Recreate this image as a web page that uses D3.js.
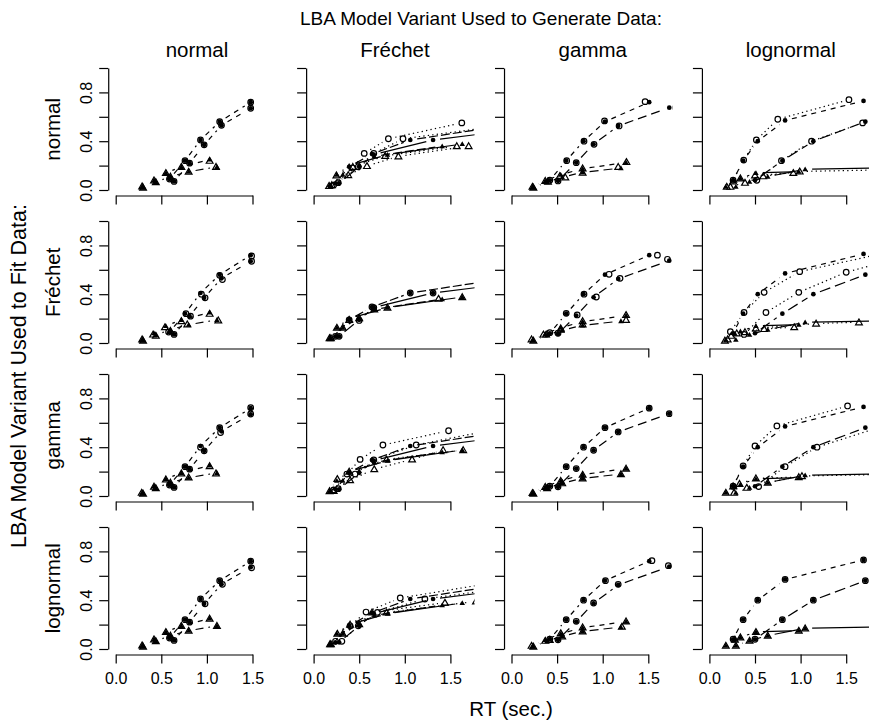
<!DOCTYPE html>
<html><head><meta charset="utf-8">
<script src="https://cdn.jsdelivr.net/npm/d3@7"></script>
<style>
body{margin:0;background:#fff}
svg{display:block}
text{font-family:"Liberation Sans",Arial,Helvetica,sans-serif;fill:#000}
</style></head>
<body><svg id="c" width="869" height="723"></svg>
<script>
// ---------- labels ----------
const variants = ["normal", "Fréchet", "gamma", "lognormal"];
const xTicks = [0, 0.5, 1, 1.5];
const yTicks = [0, 0.2, 0.4, 0.6, 0.8, 1];
const yLabelTicks = [0, 0.4, 0.8];
const curveKinds = ["correct", "correct", "error", "error"];

// ---------- observed data (filled symbols), one per generating model ----------
// each curve: [x (RT quantiles, s), y (defective cumulative probability)]
const dataNormal = [
  [[0.59,0.76,0.93,1.14,1.48],[0.09,0.24,0.41,0.56,0.72]],
  [[0.64,0.81,0.97,1.16,1.48],[0.07,0.22,0.37,0.53,0.67]],
  [[0.29,0.42,0.55,0.72,1.03],[0.03,0.08,0.14,0.19,0.25]],
  [[0.30,0.44,0.60,0.80,1.11],[0.02,0.065,0.11,0.15,0.19]]
];
const dataFrechet = [
  [[0.24,0.39,0.64,1.06,2.2],[0.055,0.19,0.295,0.41,0.54]],
  [[0.28,0.50,0.66,1.31,2.6],[0.055,0.19,0.29,0.41,0.53]],
  [[0.175,0.255,0.39,0.81,1.63],[0.041,0.126,0.20,0.29,0.377]],
  [[0.19,0.32,0.50,0.665,1.41],[0.04,0.126,0.205,0.276,0.36]]
];
const dataGamma = [
  [[0.42,0.60,0.79,1.025,1.51],[0.08,0.24,0.40,0.56,0.72]],
  [[0.51,0.71,0.90,1.17,1.73],[0.075,0.225,0.375,0.525,0.675]],
  [[0.23,0.37,0.54,0.78,1.256],[0.025,0.075,0.125,0.175,0.225]],
  [[0.24,0.39,0.556,0.78,1.20],[0.02,0.065,0.105,0.145,0.18]]
];
const dataLognormal = [
  [[0.26,0.37,0.53,0.83,1.69],[0.08,0.24,0.40,0.57,0.73]],
  [[0.50,0.80,1.14,1.71,2.9],[0.08,0.24,0.40,0.56,0.72]],
  [[0.18,0.28,0.34,0.51,0.98],[0.027,0.077,0.096,0.14,0.15]],
  [[0.29,0.44,0.64,1.05,4.0],[0.027,0.068,0.11,0.17,0.21]]
];

// ---------- model predictions (open symbols): fit model x generating model ----------
const fitNormal_genNormal = [
  [[0.59,0.76,0.93,1.14,1.48],[0.09,0.24,0.41,0.56,0.72]],
  [[0.64,0.81,0.97,1.16,1.48],[0.07,0.22,0.37,0.53,0.67]],
  [[0.29,0.42,0.55,0.72,1.03],[0.03,0.08,0.14,0.19,0.24]],
  [[0.30,0.44,0.60,0.80,1.10],[0.02,0.065,0.11,0.15,0.19]]
];
const fitFrechet_genNormal = [
  [[0.58,0.77,0.94,1.14,1.49],[0.09,0.24,0.40,0.555,0.713]],
  [[0.64,0.82,0.98,1.17,1.49],[0.07,0.22,0.37,0.52,0.67]],
  [[0.29,0.41,0.54,0.72,1.03],[0.03,0.07,0.13,0.18,0.24]],
  [[0.30,0.44,0.60,0.785,1.125],[0.02,0.06,0.10,0.153,0.186]]
];
const fitGamma_genNormal = [
  [[0.59,0.76,0.93,1.14,1.48],[0.09,0.24,0.40,0.56,0.724]],
  [[0.64,0.81,0.97,1.15,1.48],[0.07,0.22,0.37,0.52,0.672]],
  [[0.285,0.42,0.55,0.72,1.03],[0.027,0.077,0.137,0.186,0.246]],
  [[0.30,0.44,0.60,0.80,1.10],[0.02,0.065,0.11,0.153,0.186]]
];
const fitLognormal_genNormal = [
  [[0.59,0.76,0.93,1.14,1.48],[0.09,0.24,0.41,0.56,0.72]],
  [[0.64,0.81,0.98,1.17,1.49],[0.07,0.22,0.37,0.53,0.665]],
  [[0.29,0.42,0.55,0.72,1.03],[0.03,0.08,0.14,0.19,0.25]],
  [[0.30,0.44,0.60,0.80,1.11],[0.02,0.065,0.11,0.15,0.19]]
];
const fitNormal_genFrechet = [
  [[0.22,0.43,0.555,0.82,1.625],[0.04,0.18,0.30,0.42,0.55]],
  [[0.27,0.49,0.66,0.98,2.2],[0.06,0.19,0.30,0.42,0.54]],
  [[0.17,0.25,0.43,0.785,1.57],[0.035,0.12,0.19,0.28,0.36]],
  [[0.20,0.38,0.585,0.93,1.70],[0.04,0.123,0.197,0.276,0.36]]
];
const fitFrechet_genFrechet = [
  [[0.24,0.39,0.64,1.06,2.2],[0.055,0.19,0.295,0.41,0.54]],
  [[0.28,0.50,0.66,1.31,2.6],[0.055,0.185,0.29,0.41,0.53]],
  [[0.175,0.255,0.39,0.81,1.63],[0.041,0.126,0.19,0.29,0.377]],
  [[0.19,0.32,0.50,0.665,1.37],[0.04,0.126,0.205,0.276,0.363]]
];
const fitGamma_genFrechet = [
  [[0.22,0.365,0.51,0.76,1.48],[0.05,0.18,0.30,0.418,0.535]],
  [[0.27,0.455,0.66,1.125,1.95],[0.06,0.18,0.295,0.418,0.54]],
  [[0.175,0.26,0.39,0.80,1.64],[0.041,0.14,0.20,0.30,0.377]],
  [[0.22,0.40,0.665,1.08,1.42],[0.042,0.13,0.22,0.30,0.377]]
];
const fitLognormal_genFrechet = [
  [[0.24,0.40,0.575,0.95,1.95],[0.063,0.19,0.303,0.418,0.54]],
  [[0.31,0.49,0.70,1.22,2.4],[0.063,0.19,0.30,0.41,0.53]],
  [[0.18,0.26,0.40,0.80,1.78],[0.04,0.126,0.20,0.30,0.39]],
  [[0.19,0.32,0.50,0.64,1.44],[0.04,0.126,0.205,0.30,0.38]]
];
const fitNormal_genGamma = [
  [[0.42,0.605,0.795,1.02,1.465],[0.08,0.24,0.40,0.566,0.724]],
  [[0.51,0.71,0.905,1.18,1.80],[0.074,0.224,0.374,0.525,0.675]],
  [[0.23,0.37,0.53,0.78,1.26],[0.027,0.076,0.115,0.178,0.23]],
  [[0.24,0.40,0.59,0.78,1.17],[0.02,0.068,0.104,0.142,0.19]]
];
const fitFrechet_genGamma = [
  [[0.42,0.60,0.795,1.07,1.60],[0.085,0.243,0.40,0.563,0.72]],
  [[0.51,0.72,0.93,1.19,1.71],[0.08,0.23,0.377,0.53,0.686]],
  [[0.22,0.35,0.54,0.78,1.256],[0.03,0.07,0.12,0.18,0.23]],
  [[0.24,0.38,0.54,0.78,1.256],[0.02,0.07,0.11,0.153,0.19]]
];
const fitGamma_genGamma = [
  [[0.42,0.60,0.79,1.025,1.51],[0.08,0.24,0.40,0.56,0.72]],
  [[0.51,0.71,0.90,1.17,1.73],[0.075,0.225,0.375,0.525,0.675]],
  [[0.23,0.37,0.54,0.78,1.256],[0.025,0.075,0.125,0.175,0.225]],
  [[0.24,0.39,0.556,0.78,1.20],[0.02,0.065,0.105,0.145,0.18]]
];
const fitLognormal_genGamma = [
  [[0.42,0.60,0.79,1.03,1.54],[0.08,0.24,0.40,0.56,0.724]],
  [[0.51,0.71,0.90,1.17,1.72],[0.075,0.227,0.377,0.53,0.683]],
  [[0.22,0.37,0.54,0.78,1.256],[0.027,0.068,0.13,0.178,0.227]],
  [[0.24,0.42,0.556,0.78,1.21],[0.02,0.075,0.104,0.145,0.183]]
];
const fitNormal_genLognormal = [
  [[0.26,0.376,0.515,0.75,1.53],[0.08,0.245,0.41,0.58,0.74]],
  [[0.52,0.79,1.12,1.68,2.6],[0.08,0.24,0.40,0.55,0.70]],
  [[0.19,0.26,0.34,0.50,0.92],[0.027,0.07,0.096,0.12,0.14]],
  [[0.23,0.39,0.59,0.99,3.0],[0.027,0.06,0.113,0.152,0.18]]
];
const fitFrechet_genLognormal = [
  [[0.23,0.38,0.60,0.99,2.0],[0.093,0.25,0.415,0.585,0.75]],
  [[0.38,0.62,0.98,1.50,2.3],[0.07,0.25,0.415,0.58,0.74]],
  [[0.17,0.24,0.39,0.60,0.93],[0.02,0.06,0.09,0.115,0.13]],
  [[0.20,0.30,0.51,1.17,1.64],[0.03,0.08,0.12,0.16,0.17]]
];
const fitGamma_genLognormal = [
  [[0.26,0.37,0.50,0.74,1.515],[0.08,0.246,0.41,0.574,0.738]],
  [[0.54,0.83,1.18,1.85,2.8],[0.077,0.24,0.40,0.56,0.72]],
  [[0.18,0.26,0.33,0.51,0.98],[0.027,0.08,0.10,0.145,0.155]],
  [[0.27,0.41,0.64,1.015,3.5],[0.027,0.068,0.11,0.164,0.20]]
];
const fitLognormal_genLognormal = [
  [[0.26,0.37,0.53,0.83,1.69],[0.08,0.24,0.40,0.57,0.73]],
  [[0.50,0.80,1.14,1.71,2.9],[0.08,0.24,0.40,0.56,0.72]],
  [[0.18,0.28,0.34,0.51,0.98],[0.027,0.077,0.096,0.14,0.15]],
  [[0.29,0.44,0.64,1.05,4.0],[0.027,0.068,0.11,0.17,0.21]]
];

// ---------- assembly (rows = fitted model, columns = generating model) ----------
const dataByCol = [dataNormal, dataFrechet, dataGamma, dataLognormal];
const predGrid = [
  [fitNormal_genNormal, fitNormal_genFrechet, fitNormal_genGamma, fitNormal_genLognormal],
  [fitFrechet_genNormal, fitFrechet_genFrechet, fitFrechet_genGamma, fitFrechet_genLognormal],
  [fitGamma_genNormal, fitGamma_genFrechet, fitGamma_genGamma, fitGamma_genLognormal],
  [fitLognormal_genNormal, fitLognormal_genFrechet, fitLognormal_genGamma, fitLognormal_genLognormal]
];

// ---------- styles ----------
const dashByCol = [
  ["5,5", "5,5", "5,5", "8,5"],
  ["9,3", null, null, "9,3"],
  ["5,5", "9,5", "5,5", "9,5"],
  ["5,5", "11,5", null, null]
];
const showPredLine = [
  [false, true, false, true],
  [false, false, false, true],
  [false, true, false, true],
  [false, true, false, false]
];

const svg = d3.select("#c");
const FONT = '"Liberation Sans",Arial,Helvetica,sans-serif';
const colStep = 197.9, rowStep = 153;
const X0 = 115.7, Y0 = 190, XS = 91.2, YS = 122;
const GAP = 7;

function triPath(r) {
  const h = r * Math.sqrt(3) / 2;
  return `M0,${-r}L${h},${r/2}L${-h},${r/2}Z`;
}

function drawSegments(g, pts, dash, width) {
  for (let i = 0; i < pts.length - 1; i++) {
    const [ax, ay] = pts[i], [bx, by] = pts[i+1];
    const dx = bx - ax, dy = by - ay, L = Math.hypot(dx, dy);
    if (L <= 2 * GAP) continue;
    const ux = dx / L, uy = dy / L;
    const ln = g.append("line")
      .attr("x1", ax + ux * GAP).attr("y1", ay + uy * GAP)
      .attr("x2", bx - ux * GAP).attr("y2", by - uy * GAP)
      .attr("stroke", "#000").attr("stroke-width", width);
    if (dash) ln.attr("stroke-dasharray", dash);
  }
}

variants.forEach((fitName, r) => {
  variants.forEach((genName, c) => {
    const x = d3.scaleLinear().domain([0, 1.5]).range([X0 + c*colStep, X0 + c*colStep + 1.5*XS]);
    const y = d3.scaleLinear().domain([0, 1]).range([Y0 + r*rowStep, Y0 + r*rowStep - YS]);
    const left = x(-0.082), right = x(1.765), top = y(1.04), bottom = y(-0.045);
    const cid = `clip${r}${c}`;
    svg.append("clipPath").attr("id", cid).append("rect")
      .attr("x", left).attr("y", top).attr("width", right - left).attr("height", bottom - top);
    const g = svg.append("g").attr("clip-path", `url(#${cid})`);

    const data = dataByCol[c], pred = predGrid[r][c];
    // lines
    data.forEach((cv, k) => {
      const pts = cv[0].map((v, i) => [x(v), y(cv[1][i])]);
      drawSegments(g, pts, dashByCol[c][k], 1.2);
    });
    if (showPredLine[r][c]) {
      pred.forEach((cv) => {
        const pts = cv[0].map((v, i) => [x(v), y(cv[1][i])]);
        drawSegments(g, pts, "1.3,3.2", 1.2);
      });
    }
    // predicted (open) symbols
    pred.forEach((cv, k) => {
      cv[0].forEach((v, i) => {
        const px = x(v), py = y(cv[1][i]);
        if (curveKinds[k] === "correct") {
          g.append("circle").attr("cx", px).attr("cy", py).attr("r", 2.8)
            .attr("fill", "none").attr("stroke", "#000").attr("stroke-width", 1.2);
        } else {
          g.append("path").attr("d", triPath(3.9)).attr("transform", `translate(${px},${py + 0.6})`)
            .attr("fill", "none").attr("stroke", "#000").attr("stroke-width", 1.2);
        }
      });
    });
    // observed (filled) symbols
    data.forEach((cv, k) => {
      cv[0].forEach((v, i) => {
        const px = x(v), py = y(cv[1][i]);
        if (curveKinds[k] === "correct") {
          g.append("circle").attr("cx", px).attr("cy", py).attr("r", 2.35).attr("fill", "#000");
        } else {
          g.append("path").attr("d", triPath(3.2)).attr("transform", `translate(${px},${py + 0.5})`)
            .attr("fill", "#000");
        }
      });
    });

    // axes
    const fmt = d3.format(".1f");
    const ax = svg.append("g").attr("transform", `translate(0,${bottom})`)
      .call(d3.axisBottom(x).tickValues(xTicks).tickSize(9).tickSizeOuter(0)
        .tickFormat(d => r === 3 ? fmt(d) : ""));
    ax.attr("font-family", FONT).attr("font-size", 16);
    ax.selectAll("path,line").attr("stroke", "#000").attr("stroke-width", 1.2);
    ax.selectAll("text").attr("y", 30).attr("dy", 0).attr("fill", "#000");

    const ay = svg.append("g").attr("transform", `translate(${left},0)`)
      .call(d3.axisLeft(y).tickValues(yTicks).tickSize(9).tickSizeOuter(0)
        .tickFormat(d => (c === 0 && yLabelTicks.includes(d)) ? fmt(d) : ""));
    ay.attr("font-family", FONT).attr("font-size", 16);
    ay.selectAll("path,line").attr("stroke", "#000").attr("stroke-width", 1.2);
    ay.selectAll("text").attr("x", 0).attr("dy", 0).attr("text-anchor", "middle")
      .attr("transform", "translate(-16,0) rotate(-90)").attr("fill", "#000");

    // column titles / row labels
    if (r === 0) {
      svg.append("text").attr("x", 197 + c*colStep).attr("y", 57)
        .attr("text-anchor", "middle").attr("font-size", 20.5).text(genName);
    }
    if (c === 0) {
      const cy = (top + bottom) / 2;
      svg.append("text").attr("transform", `translate(60,${cy}) rotate(-90)`)
        .attr("text-anchor", "middle").attr("font-size", 20.5).text(fitName);
    }
  });
});

svg.append("text").attr("x", 481).attr("y", 25).attr("text-anchor", "middle")
  .attr("font-size", 19).text("LBA Model Variant Used to Generate Data:");
svg.append("text").attr("transform", "translate(26,376) rotate(-90)").attr("text-anchor", "middle")
  .attr("font-size", 21.5).text("LBA Model Variant Used to Fit Data:");
svg.append("text").attr("x", 511).attr("y", 716).attr("text-anchor", "middle")
  .attr("font-size", 20.5).text("RT (sec.)");
</script>
</body></html>
